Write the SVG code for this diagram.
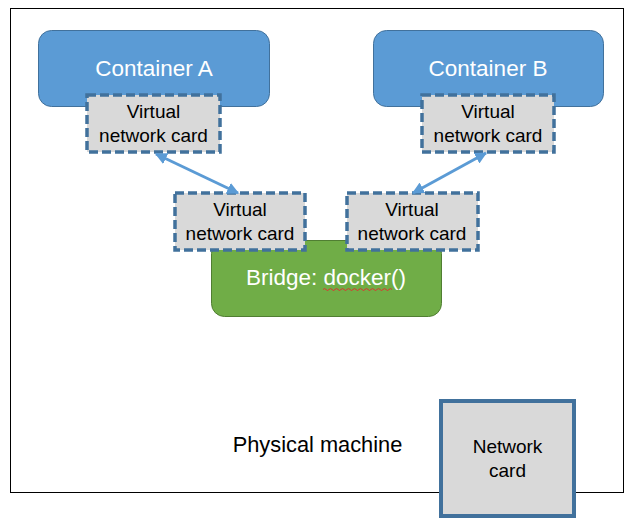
<svg xmlns="http://www.w3.org/2000/svg" width="634" height="527" viewBox="0 0 634 527">
<defs>
<marker id="ah" viewBox="0 0 10 10" refX="9" refY="5" markerWidth="4" markerHeight="4" orient="auto-start-reverse" markerUnits="strokeWidth">
<path d="M0,0 L10,5 L0,10 z" fill="#5B9BD5"/>
</marker>
<style>
text{font-family:"Liberation Sans",Arial,sans-serif;text-anchor:middle}
.cont{fill:#5B9BD5;stroke:#41719C;stroke-width:1}
.ctext{fill:#fff;font-size:22.5px}
.vnc{fill:#D9D9D9;stroke:#41719C;stroke-width:3.5;stroke-dasharray:9 4}
.vtext{fill:#000;font-size:19px}
.conn{stroke:#5B9BD5;stroke-width:3;fill:none}
</style>
</defs>
<rect id="physical-machine" x="10.5" y="8.5" width="613" height="484" fill="#fff" stroke="#000" stroke-width="1"/>
<text x="317.5" y="452" style="font-size:21.8px" fill="#000">Physical machine</text>
<g id="container-a">
<rect class="cont" x="38.5" y="30.5" width="231" height="76" rx="13"/>
<text class="ctext" x="154" y="76">Container A</text>
</g>
<g id="container-b">
<rect class="cont" x="373.5" y="30.5" width="230" height="76" rx="13"/>
<text class="ctext" x="488" y="76">Container B</text>
</g>
<g id="bridge">
<rect x="211.5" y="240.5" width="230" height="76" rx="13" fill="#70AD47" stroke="#507E32" stroke-width="1"/>
<text x="326" y="285" style="font-size:22.5px" fill="#fff">Bridge: docker()</text>
<path d="M323,289.5 q1.5,-2 3,0 t3,0 t3,0 t3,0 t3,0 t3,0 t3,0 t3,0 t3,0 t3,0 t3,0 t3,0 t3,0 t3,0 t3,0 t3,0 t3,0 t3,0 t3,0 t3,0 t3,0 t3,0 t3,0" fill="none" stroke="#E03030" stroke-width="1"/>
</g>
<g id="vnc-a">
<rect class="vnc" x="87" y="95" width="133" height="57"/>
<text class="vtext" x="153.5" y="118">Virtual</text>
<text class="vtext" x="153.5" y="142">network card</text>
</g>
<g id="vnc-b">
<rect class="vnc" x="422" y="95" width="132" height="57"/>
<text class="vtext" x="488" y="118">Virtual</text>
<text class="vtext" x="488" y="142">network card</text>
</g>
<g id="vnc-bridge-left">
<rect class="vnc" x="175" y="193" width="130" height="57"/>
<text class="vtext" x="240" y="216">Virtual</text>
<text class="vtext" x="240" y="240">network card</text>
</g>
<g id="vnc-bridge-right">
<rect class="vnc" x="347" y="193" width="131" height="57"/>
<text class="vtext" x="412" y="216">Virtual</text>
<text class="vtext" x="412" y="240">network card</text>
</g>
<g id="network-card">
<rect x="441" y="401" width="133" height="115" fill="#D9D9D9" stroke="#41719C" stroke-width="4"/>
<text class="vtext" x="507.5" y="453">Network</text>
<text class="vtext" x="507.5" y="477">card</text>
</g>
<g id="connectors">
<line class="conn" x1="156" y1="154" x2="238" y2="193" marker-start="url(#ah)" marker-end="url(#ah)"/>
<line class="conn" x1="486" y1="153" x2="413" y2="193" marker-start="url(#ah)" marker-end="url(#ah)"/>
</g>
</svg>
